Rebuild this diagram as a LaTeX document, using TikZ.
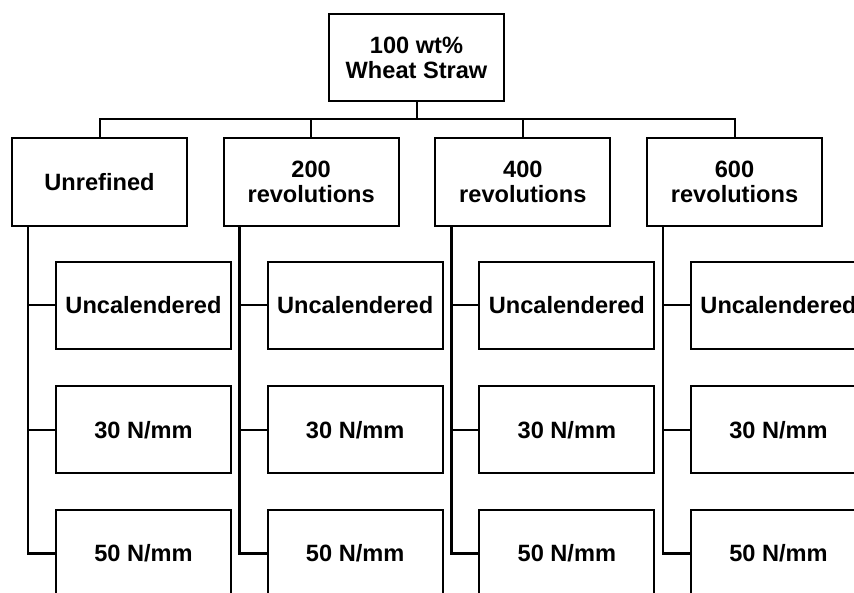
\documentclass[tikz,border=0pt]{standalone}
\usepackage{fontspec}
\setmainfont{Liberation Sans}
\begin{document}
\begin{tikzpicture}[x=1pt,y=1pt,
  box/.style={draw=black,line width=2pt,fill=white,minimum width=175pt,minimum height=87pt,inner sep=0pt,align=center,font=\fontsize{23.6}{25}\selectfont\bfseries},
  conn/.style={draw=black,line width=2pt},
  spine/.style={draw=black,line width=2.6pt}]
\useasboundingbox (0,0) rectangle (854,592);
\clip (0,0) rectangle (854,592);
\fill[white] (0,0) rectangle (854,592);
\node[box] (top) at (416.5,534.5) {100 wt\%\\Wheat Straw};
\foreach \i/\lab in {0/Unrefined,1/{200\\revolutions},2/{400\\revolutions},3/{600\\revolutions}}{
  \node[box,minimum height=88pt] (L\i) at (99.5+211.67*\i,410) {\lab};
  \node[box] (U\i) at (143.5+211.67*\i,286.5) {Uncalendered};
  \node[box] (T\i) at (143.5+211.67*\i,162) {30 N/mm};
  \node[box] (F\i) at (143.5+211.67*\i,38.5) {50 N/mm};
  \coordinate (S\i) at ([xshift=17pt]L\i.south west);
  \draw[spine] (S\i) |- (F\i.west);
  \draw[conn] (S\i) |- (U\i.west);
  \draw[conn] (S\i) |- (T\i.west);
}
\coordinate (bus) at ([yshift=-17pt]top.south);
\draw[conn] (top.south) -- (bus);
\draw[conn] (L0.north) |- (bus) -| (L3.north);
\draw[conn] (bus) -| (L1.north);
\draw[conn] (bus) -| (L2.north);
\end{tikzpicture}
\end{document}
